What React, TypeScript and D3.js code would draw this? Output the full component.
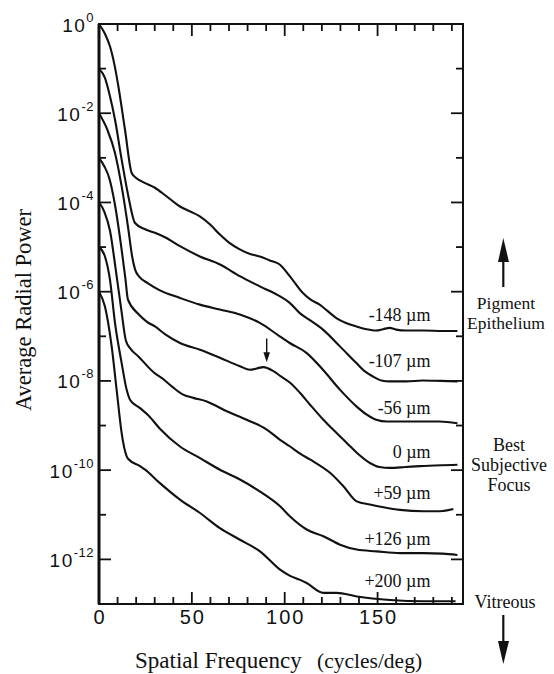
import React from 'react';
import * as d3 from 'd3';

// Each curve: [spatial frequency (cycles/deg), log10(average radial power)]
const curveM148: [number, number][] = [
  [0, 0], [3.2, -0.22], [5.9, -0.5], [8.5, -0.95], [10.4, -1.39], [14.0, -2.37], [17.6, -3.34],
  [20, -3.45], [24, -3.55], [30.1, -3.67], [36, -3.85], [43.6, -4.09], [49, -4.2], [54.3, -4.31],
  [60, -4.5], [65.1, -4.72], [70, -4.9], [75.8, -5.05], [81, -5.15], [86.6, -5.21], [92, -5.3],
  [97.3, -5.39], [102.7, -5.65], [109.8, -6.03], [114, -6.18], [118.8, -6.29], [123, -6.43],
  [127.8, -6.59], [133, -6.7], [138.6, -6.78], [144, -6.84], [149.3, -6.87], [153, -6.84],
  [156.5, -6.81], [160, -6.85], [165.4, -6.87], [175, -6.87], [185, -6.88], [193, -6.88],
];
const curveM107: [number, number][] = [
  [0, -1.0], [3.2, -1.21], [5.9, -1.62], [8.6, -2.14], [12.2, -3.04], [15.8, -3.86], [19.4, -4.46],
  [24.8, -4.6], [30.1, -4.68], [35.5, -4.78], [43.6, -4.98], [54.3, -5.21], [65.1, -5.39],
  [75.8, -5.65], [86.6, -5.88], [97.3, -6.1], [102.7, -6.25], [108.1, -6.48], [114, -6.65],
  [120.6, -6.85], [129.6, -7.22], [138.6, -7.6], [143, -7.78], [147.5, -7.9], [152, -7.99],
  [156.5, -8.01], [165.4, -8.01], [174.4, -7.99], [184, -8.0], [193, -8.01],
];
const curveM56: [number, number][] = [
  [0, -2.0], [4.5, -2.37], [8.6, -2.89], [12.2, -3.64], [15.8, -4.6], [17.8, -5.2], [19.4, -5.5],
  [22, -5.68], [26, -5.8], [32.8, -5.97], [43.6, -6.14], [54.3, -6.29], [65.1, -6.4], [75.8, -6.51],
  [86.6, -6.7], [97.3, -7.0], [102.7, -7.15], [111.7, -7.37], [120.6, -7.75], [129.6, -8.19],
  [138.6, -8.57], [144, -8.75], [149.3, -8.87], [155, -8.91], [165.4, -8.91], [183.3, -8.91],
  [193, -8.95],
];
const curveZero: [number, number][] = [
  [0, -3.0], [3, -3.2], [5.5, -3.45], [8.6, -4.05], [12, -5.0], [14.2, -5.7], [15.6, -6.18],
  [21.2, -6.5], [26, -6.68], [30.1, -6.78], [35.5, -6.95], [43.6, -7.15], [54.4, -7.3],
  [65.1, -7.48], [75.9, -7.67], [81.3, -7.75], [85, -7.72], [88.5, -7.69], [93.9, -7.78],
  [98, -7.9], [102.9, -8.04], [108.3, -8.27], [114, -8.55], [120.8, -8.87], [126, -9.09],
  [133.4, -9.39], [138.8, -9.61], [145.9, -9.84], [151, -9.93], [156.7, -9.95], [165, -9.93],
  [172.9, -9.91], [185, -9.89], [193, -9.88],
];
const curveP59: [number, number][] = [
  [0, -4.0], [3, -4.22], [6, -4.65], [9, -5.5], [12, -6.4], [14.5, -7.1], [17, -7.28],
  [21.2, -7.45], [29.2, -7.8], [35.5, -7.99], [40, -8.15], [45, -8.3], [50.8, -8.38], [58, -8.46],
  [68.8, -8.68], [79.5, -8.87], [90.3, -9.09], [97.5, -9.32], [102.9, -9.47], [108.3, -9.63],
  [113.6, -9.76], [124.4, -10.06], [131.6, -10.36], [138.8, -10.7], [145.9, -10.77],
  [153.1, -10.83], [162.1, -10.89], [174.6, -10.92], [183.6, -10.92], [190.8, -10.87],
];
const curveP126: [number, number][] = [
  [0, -5.0], [3.2, -5.21], [5.9, -5.73], [8.6, -6.7], [12.2, -7.6], [14.9, -8.2], [16.7, -8.42],
  [22.1, -8.61], [26.5, -8.77], [32.8, -9.07], [43.6, -9.47], [54.4, -9.73], [65.1, -9.99],
  [75.9, -10.21], [86.7, -10.48], [97.5, -10.81], [102.9, -11.04], [111.8, -11.33],
  [120.8, -11.48], [129.8, -11.67], [138.8, -11.78], [149.5, -11.82], [162.1, -11.86],
  [174.6, -11.86], [185, -11.87], [193, -11.9],
];
const curveP200: [number, number][] = [
  [0, -6.0], [3.2, -6.33], [6.8, -7.22], [9.5, -8.2], [12.2, -9.17], [14.9, -9.69], [15.8, -9.75],
  [22.1, -9.91], [24.8, -9.99], [32.8, -10.29], [43.6, -10.66], [54.4, -10.96], [65.1, -11.3],
  [75.9, -11.56], [86.7, -11.82], [97.5, -12.23], [102.9, -12.37], [108.3, -12.46],
  [111.8, -12.53], [120.8, -12.75], [128, -12.75], [138.8, -12.83], [156.7, -12.91],
  [174.6, -12.94], [192, -12.94],
];

const curves = [curveM148, curveM107, curveM56, curveZero, curveP59, curveP126, curveP200];
const curveLabels = ['-148 \u00b5m', '-107 \u00b5m', '-56 \u00b5m', '0 \u00b5m', '+59 \u00b5m', '+126 \u00b5m', '+200 \u00b5m'];
const labelLevels = [-6.65, -7.69, -8.75, -9.73, -10.65, -11.68, -12.61];
const labelFreq = 178.5;

const xTickLabels = [0, 50, 100, 150];
const xMinorTicks = d3.range(0, 200, 10);
const yDecades = d3.range(0, -13, -1);
const yLabelExps = [0, -2, -4, -6, -8, -10, -12];

// arrow marking the bump on the 0 µm curve
const bumpArrowFreq = 90.3;
const bumpArrowFrom = -7.05;
const bumpArrowTo = -7.58;

export default function App() {
  const x = d3.scaleLinear().domain([0, 196]).range([99, 463]);
  const y = d3.scaleLog().domain([1e-13, 1]).range([604, 24]);
  const line = d3
    .line<[number, number]>()
    .x((d) => x(d[0]))
    .y((d) => y(Math.pow(10, d[1])))
    .curve(d3.curveMonotoneX);

  const left = x(0);
  const right = x(196);
  const top = y(1);
  const bottom = y(1e-13);
  const sans = 'Liberation Sans, Arial, sans-serif';
  const serif = 'Liberation Serif, Times New Roman, serif';
  const ink = '#111';

  const ax = x(bumpArrowFreq);
  const ay0 = y(Math.pow(10, bumpArrowFrom));
  const ay1 = y(Math.pow(10, bumpArrowTo));

  return (
    <svg
      width={554}
      height={674}
      viewBox="0 0 554 674"
      style={{ position: 'absolute', left: 0, top: 0, background: '#fff' }}
    >
      <rect x={0} y={0} width={554} height={674} fill="#fff" />

      {/* curves */}
      {curves.map((c, i) => (
        <path key={i} d={line(c) || ''} fill="none" stroke={ink} strokeWidth={2.1} strokeLinejoin="round" />
      ))}

      {/* frame */}
      <rect x={left} y={top} width={right - left} height={bottom - top} fill="none" stroke={ink} strokeWidth={2} />
      <line x1={left} x2={left} y1={top} y2={bottom} stroke={ink} strokeWidth={3} />

      {/* x ticks top & bottom */}
      {xMinorTicks.map((v) => {
        const len = v % 50 === 0 ? 12 : 7;
        return (
          <g key={v}>
            <line x1={x(v)} x2={x(v)} y1={bottom} y2={bottom - len} stroke={ink} strokeWidth={1.8} />
            <line x1={x(v)} x2={x(v)} y1={top} y2={top + len} stroke={ink} strokeWidth={1.8} />
          </g>
        );
      })}

      {/* y ticks left & right */}
      {yDecades.map((e) => {
        const len = e % 2 === 0 ? 12 : 7;
        const yy = y(Math.pow(10, e));
        return (
          <g key={e}>
            <line x1={left} x2={left + len} y1={yy} y2={yy} stroke={ink} strokeWidth={1.8} />
            <line x1={right} x2={right - len} y1={yy} y2={yy} stroke={ink} strokeWidth={1.8} />
          </g>
        );
      })}

      {/* x tick labels */}
      {xTickLabels.map((v) => (
        <text key={v} x={x(v) + 1} y={624} textAnchor="middle" fontFamily={sans} fontSize={20} letterSpacing={2} fill={ink}>
          {v}
        </text>
      ))}

      {/* y tick labels */}
      {yLabelExps.map((e) => (
        <text key={e} x={94} y={y(Math.pow(10, e)) + 7.5} textAnchor="end" fontFamily={sans} fontSize={19} letterSpacing={1.5} fill={ink}>
          <tspan>10</tspan>
          <tspan dy={-10} fontSize={13} letterSpacing={0.5}>{String(e)}</tspan>
        </text>
      ))}

      {/* curve labels */}
      {curveLabels.map((t, i) => (
        <text key={t} x={x(labelFreq)} y={y(Math.pow(10, labelLevels[i]))} textAnchor="end" fontFamily={serif} fontSize={18} fill={ink}>
          {t}
        </text>
      ))}

      {/* bump arrow */}
      <line x1={ax} x2={ax} y1={ay0} y2={ay1 - 8} stroke={ink} strokeWidth={1.4} />
      <path d={`M${ax - 3.3},${ay1 - 10} L${ax + 3.3},${ay1 - 10} L${ax},${ay1} Z`} fill={ink} />

      {/* axis titles */}
      <text transform="translate(31,310) rotate(-90)" textAnchor="middle" fontFamily={serif} fontSize={22.5} fill={ink}>
        Average Radial Power
      </text>
      <text x={135} y={668} fontFamily={serif} fontSize={23} fill={ink}>Spatial Frequency</text>
      <text x={317} y={668} fontFamily={serif} fontSize={21.5} fill={ink}>(cycles/deg)</text>

      {/* right annotations */}
      <line x1={503.3} x2={503.3} y1={287} y2={256} stroke={ink} strokeWidth={2.2} />
      <path d="M498,262 L509,262 L503.3,238 Z" fill={ink} />
      <text x={506} y={309} textAnchor="middle" fontFamily={serif} fontSize={17.5} fill={ink}>Pigment</text>
      <text x={506} y={329} textAnchor="middle" fontFamily={serif} fontSize={17.5} fill={ink}>Epithelium</text>

      <text x={509} y={451} textAnchor="middle" fontFamily={serif} fontSize={18} fill={ink}>Best</text>
      <text x={509} y={471} textAnchor="middle" fontFamily={serif} fontSize={18} fill={ink}>Subjective</text>
      <text x={509} y={491} textAnchor="middle" fontFamily={serif} fontSize={18} fill={ink}>Focus</text>

      <text x={505} y={608} textAnchor="middle" fontFamily={serif} fontSize={18} fill={ink}>Vitreous</text>
      <line x1={503.3} x2={503.3} y1={615} y2={645} stroke={ink} strokeWidth={2.2} />
      <path d="M498,641 L509,641 L503.3,664 Z" fill={ink} />
    </svg>
  );
}
